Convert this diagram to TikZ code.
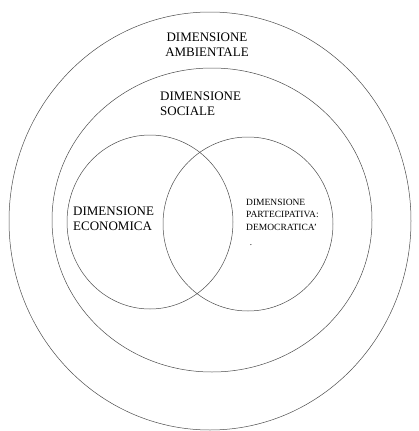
\documentclass[tikz,border=0pt]{standalone}
\usepackage{fontspec}
\setmainfont{Liberation Serif}
\usetikzlibrary{positioning}

\begin{document}
\begin{tikzpicture}[
  x=1pt, y=-1pt,
  every node/.style = {font=\rmfamily\fontsize{13}{15}\selectfont, inner sep=0pt},
  ring/.style = {draw=black!70, line width=0.5pt},
  dim/.style = {align=left, anchor=north west},
  small/.style = {align=left, anchor=north west, font=\rmfamily\fontsize{9.5}{12.5}\selectfont}
]
  \useasboundingbox (0,0) rectangle (418,431);

  \draw[ring] (210,221) ellipse [x radius=201, y radius=209];
  \draw[ring] (212,220) ellipse [x radius=160, y radius=152];
  \draw[ring] (150,222) ellipse [x radius=83, y radius=87];
  \draw[ring] (248,224) ellipse [x radius=85, y radius=87];

  \node[align=center, anchor=north] (amb) at (207,33) {DIMENSIONE\\AMBIENTALE};
  \node[dim] (soc) at (160,92) {DIMENSIONE\\SOCIALE};
  \node[dim] (eco) at (73,207) {DIMENSIONE\\ECONOMICA};
  \node[small] (par) at (246,199) {DIMENSIONE\\PARTECIPATIVA:\\DEMOCRATICA'};
  \node[font=\fontsize{9}{9}\selectfont] (dot) at (251,245) {.};
\end{tikzpicture}
\end{document}
